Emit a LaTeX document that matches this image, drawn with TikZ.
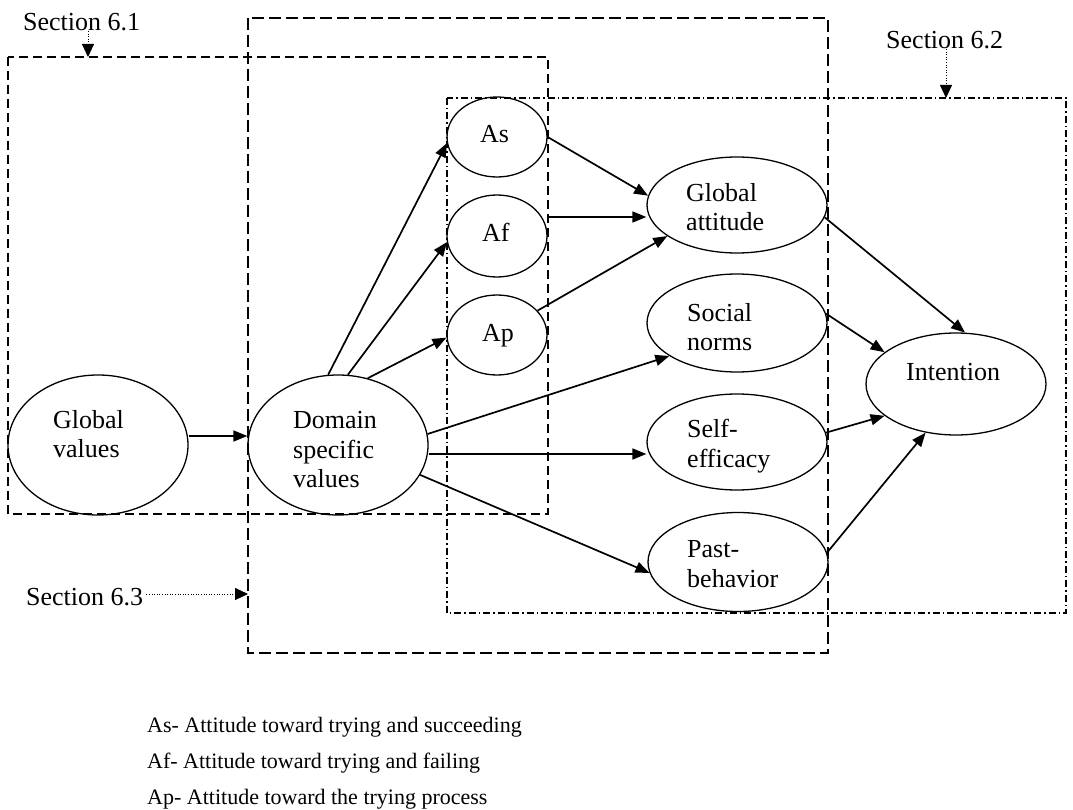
\documentclass[tikz,border=0pt]{standalone}
\usepackage{fontspec}
\setmainfont{Liberation Serif}
\usetikzlibrary{arrows.meta,shapes.geometric}
\begin{document}
\begin{tikzpicture}[x=1pt,y=-1pt,
  oval/.style={draw,ellipse,line width=1.3pt,inner sep=0pt},
  lbl/.style={anchor=west,align=left,inner sep=0pt,font=\fontsize{26}{29.5}\selectfont},
  sec/.style={anchor=west,inner sep=0pt,font=\fontsize{26}{30}\selectfont},
  key/.style={anchor=base west,inner sep=0pt,font=\fontsize{22}{26}\selectfont},
  arr/.style={line width=1.7pt,-{Triangle[length=14pt,width=11pt]}},
  ptr/.style={line width=0.9pt,dash pattern=on 1pt off 1.6pt,-{Triangle[length=13pt,width=12pt]}},
  boxone/.style={line width=1.6pt,dash pattern=on 9pt off 5pt},
  boxthree/.style={line width=1.6pt,dash pattern=on 12pt off 5pt},
  boxtwo/.style={line width=1.5pt,dash pattern=on 7pt off 3pt on 1.5pt off 3pt},
]
\useasboundingbox (0,0) rectangle (1073,810);

% section frames
\draw[boxone]   (8,57)   rectangle (548,514);
\draw[boxthree] (248,18) rectangle (828,653);
\draw[boxtwo]   (447,98) rectangle (1066,613);

% section captions and their pointers
\node[sec] (s61) at (23,22)  {Section 6.1};
\node[sec] (s62) at (886,40) {Section 6.2};
\node[sec] (s63) at (26,597) {Section 6.3};
\coordinate (p61) at (88,57);
\coordinate (p62) at (946,98);
\coordinate (p63) at (248,594);
\draw[ptr] (s61.south -| p61) -- (p61);
\draw[ptr] (s62.south -| p62) -- (p62);
\draw[ptr,shorten <=3pt] (s63.east |- p63) -- (p63);

% constructs
\node[oval,minimum width=180pt,minimum height=140pt] (gv)  at (98,445)  {};
\node[oval,minimum width=180pt,minimum height=140pt] (dom) at (338,445) {};
\node[oval,minimum width=100pt,minimum height=80pt]  (as)  at (497,137) {};
\node[oval,minimum width=100pt,minimum height=82pt]  (af)  at (497,236) {};
\node[oval,minimum width=100pt,minimum height=80pt]  (ap)  at (497,335) {};
\node[oval,minimum width=180pt,minimum height=96pt]  (ga)  at (737,205) {};
\node[oval,minimum width=180pt,minimum height=98pt]  (sn)  at (737,323) {};
\node[oval,minimum width=180pt,minimum height=96pt]  (se)  at (737,442) {};
\node[oval,minimum width=180pt,minimum height=99pt]  (pb)  at (738,562) {};
\node[oval,minimum width=180pt,minimum height=102pt] (int) at (956,384) {};

% construct names
\node[lbl] (gvt)  at (53,434)  {Global\\values};
\node[lbl] (domt) at (293,450) {Domain\\specific\\values};
\node[lbl] (ast)  at (480,134) {As};
\node[lbl] (aft)  at (482,232) {Af};
\node[lbl] (apt)  at (482,336) {Ap};
\node[lbl] (gat)  at (686,207) {Global\\attitude};
\node[lbl] (snt)  at (687,327) {Social\\norms};
\node[lbl] (set)  at (687,446) {Self-\\efficacy};
\node[lbl] (pbt)  at (687,564) {Past-\\behavior};
\node[lbl] (intt) at (906,372) {Intention};

% paths
\draw[arr] ([yshift=9pt]gv.east) -- ([yshift=9pt]dom.west);
\draw[arr] (dom.98) -- (as.187);
\draw[arr] (dom.82) -- (af.187);
\draw[arr] (dom.66) -- (ap.183);
\draw[arr] (as.east) -- (ga.174);
\draw[arr] ([yshift=19pt]af.east) -- ([yshift=-12pt]ga.west);
\draw[arr] (ap.31) -- (ga.204);
\draw[arr] (dom.7) -- (sn.206);
\draw[arr] ([yshift=-9pt]dom.east) -- ([yshift=-12pt]se.west);
\draw[arr] (dom.-20) -- (pb.187);
\draw[arr] (ga.-8) -- (int.80);
\draw[arr] (sn.6) -- (int.156);
\draw[arr] (se.6) -- (int.204);
\draw[arr] (pb.6) -- (int.238);

% key
\node[key] (k1) at (147,732) {As- Attitude toward trying and succeeding};
\node[key] (k2) at (147,768) {Af- Attitude toward trying and failing};
\node[key] (k3) at (147,804) {Ap- Attitude toward the trying process};
\end{tikzpicture}
\end{document}
